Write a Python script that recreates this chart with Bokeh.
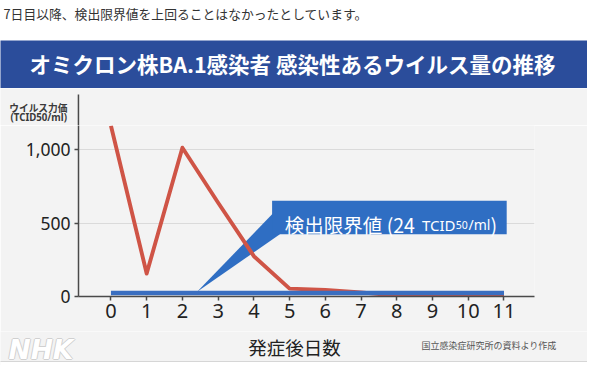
from bokeh.plotting import figure
from bokeh.layouts import column
from bokeh.models import (Label, BoxAnnotation, PolyAnnotation, FixedTicker,
                          NumeralTickFormatter, Range1d, ColumnDataSource)
from bokeh.embed import file_html
from bokeh.resources import INLINE

# ---- data ----
days = [0, 1, 2, 3, 4, 5, 6, 7, 8, 9, 10, 11]
virus_titer = [1165, 157, 1015, 640, 275, 54, 44, 28, 5, 4, 4, 4]
detection_limit = [24, 24, 24, 24, 24, 24, 24, 24, 24, 24, 24, 24]
y_ticks = [0, 500, 1000]
x_ticks = days

caption = "7日目以降、検出限界値を上回ることはなかったとしています。"
chart_title = "オミクロン株BA.1感染者 感染性あるウイルス量の推移"
x_label = "発症後日数"
y_unit_1 = "ウイルス力価"
y_unit_2 = "(TCID50/ml)"
source_note = "国立感染症研究所の資料より作成"
callout_main = "検出限界値 (24"

CJK = "Noto Sans CJK JP"
LAT = "Noto Sans"
W = 587
PANEL = "#f3f3f3"


def no_align(f):
    if "frame_align" in f.properties():
        f.frame_align = False


def strip(height, bg):
    f = figure(width=W, height=height, output_backend="svg", toolbar_location=None,
               x_range=Range1d(0, 1), y_range=Range1d(0, 1),
               x_axis_type=None, y_axis_type=None, min_border=0)
    no_align(f)
    f.title.visible = False
    f.outline_line_color = None
    f.background_fill_color = bg
    f.border_fill_color = bg
    f.xgrid.visible = False
    f.ygrid.visible = False
    return f


def lab(f, x, y, text, **kw):
    f.add_layout(Label(x=x, y=y, x_units="screen", y_units="screen", text=text, **kw))


def sbox(f, left, right, bottom, top, color, **kw):
    f.add_layout(BoxAnnotation(left=left, right=right, bottom=bottom, top=top,
                               left_units="screen", right_units="screen",
                               bottom_units="screen", top_units="screen",
                               fill_color=color, fill_alpha=1, line_color=None, **kw))


# ---- A: caption strip (white) ----
A_H = 40
fa = strip(A_H, "white")
lab(fa, 3, A_H - 12.5, caption, text_font=CJK, text_font_size="12.8px",
    text_color="#333333", text_baseline="middle")

# ---- B: header band ----
B_H = 48
fb = strip(B_H, "#2b4d9b")
lab(fb, 292, B_H - 23.2, chart_title, text_font=CJK, text_font_size="21.5px",
    text_font_style="bold", text_color="white", text_align="center", text_baseline="middle")

# ---- C: unit label strip ----
C_T, C_H = 88, 37
fc = strip(C_H, PANEL)
lab(fc, 8.8, C_T + C_H - 107.0, y_unit_1, text_font=CJK, text_font_size="9.7px",
    text_font_style="bold", text_color="#3a3a3a", text_baseline="middle")
lab(fc, 10.0, C_T + C_H - 117.4, y_unit_2, text_font=LAT, text_font_size="9.7px",
    text_font_style="bold", text_color="#3a3a3a", text_baseline="middle")
# continuation of the y axis line above the chart frame
sbox(fc, 77.2, 78.7, -1, C_T + C_H - 93.9, "#4a4a4a")

# ---- D: main chart ----
D_T, E_T = 125, 331
D_H = E_T - D_T
FL, FB = 78, 296           # frame left / bottom (figure pixels)
p = figure(width=W, height=D_H, output_backend="svg", toolbar_location=None,
           x_range=Range1d(-0.908, 11.854), y_range=Range1d(0, 1166.6),
           min_border_left=FL, min_border_right=53,
           min_border_top=0, min_border_bottom=E_T - FB)
no_align(p)
p.title.visible = False
p.outline_line_color = None
p.background_fill_color = PANEL
p.border_fill_color = PANEL
p.xgrid.grid_line_color = None
p.ygrid.grid_line_color = "#dadada"
p.ygrid.grid_line_width = 1

for ax in (p.xaxis[0], p.yaxis[0]):
    ax.axis_line_color = "#4a4a4a"
    ax.axis_line_width = 1.5
    ax.major_tick_line_color = "#4a4a4a"
    ax.major_tick_line_width = 1.5
    ax.major_tick_out = 4
    ax.major_tick_in = 0
    ax.minor_tick_line_color = None
    ax.major_label_text_font = LAT
    ax.major_label_text_color = "#222222"

p.xaxis.major_label_text_font_size = "20px"
p.yaxis.major_label_text_font_size = "17.5px"
p.xaxis.ticker = FixedTicker(ticks=x_ticks)
p.yaxis.ticker = FixedTicker(ticks=y_ticks)
p.yaxis.formatter = NumeralTickFormatter(format="0,0")
p.xaxis.major_label_standoff = 3
p.yaxis.major_label_standoff = 4


def dsx(fx):
    return fx - FL


def dsy(fy):
    return FB - fy


# callout wedge behind the lines
p.add_layout(PolyAnnotation(xs=[dsx(196.6), dsx(274.5), dsx(279.4)],
                            ys=[dsy(291.2), dsy(210.8), dsy(233.8)],
                            xs_units="screen", ys_units="screen",
                            fill_color="#2f6ec3", fill_alpha=1, line_color=None,
                            level="underlay"))

src = ColumnDataSource(dict(day=days, virus=virus_titer, limit=detection_limit))
p.line("day", "virus", source=src, line_color="#cf5446", line_width=3.9, line_join="round")
p.line("day", "limit", source=src, line_color="#3a6ec0", line_width=4.4)

# callout box and its text
sbox(p, dsx(271.6), dsx(506.2), dsy(233.8), dsy(200.2), "#2f6ec3")
base = dsy(224.2)
lab(p, dsx(284.3), base, callout_main, text_font=CJK, text_font_size="19.5px",
    text_color="white", text_baseline="alphabetic")
lab(p, dsx(421.5), base, "TCID", text_font=LAT, text_font_size="15px",
    text_color="white", text_baseline="alphabetic")
lab(p, dsx(455.3), base, "50", text_font=LAT, text_font_size="10.5px",
    text_color="white", text_baseline="alphabetic")
lab(p, dsx(468.0), base, "/ml", text_font=LAT, text_font_size="14px",
    text_color="white", text_baseline="alphabetic")
lab(p, dsx(490.0), base, ")", text_font=CJK, text_font_size="19.5px",
    text_color="white", text_baseline="alphabetic")

# ---- E: bottom strip ----
E_H = 365 - E_T
fe = strip(E_H, PANEL)
sbox(fe, -5, 600, -5, 365 - 361.5, "white")
sbox(fe, -5, 600, 365 - 361.5, 365 - 360.5, "#d6d6d6")
lab(fe, 294, 365 - 346.5, x_label, text_font=CJK, text_font_size="18.5px",
    text_color="#222222", text_align="center", text_baseline="middle")
lab(fe, 556, 365 - 345, source_note, text_font=CJK, text_font_size="9px",
    text_color="#555555", text_align="right", text_baseline="middle")
for dx, dy in [(-1, 0), (1, 0), (0, -1), (0, 1)]:
    lab(fe, 8 + dx, 365 - 349 + dy, "NHK", text_font="DejaVu Sans",
        text_font_size="26.5px", text_font_style="bold italic", text_color="#d0d0d0",
        text_baseline="middle")
lab(fe, 8, 365 - 349, "NHK", text_font="DejaVu Sans", text_font_size="26.5px",
    text_font_style="bold italic", text_color="white", text_baseline="middle")

layout = column(fa, fb, fc, p, fe, spacing=0)
open("out.html", "w").write(file_html(layout, INLINE))
